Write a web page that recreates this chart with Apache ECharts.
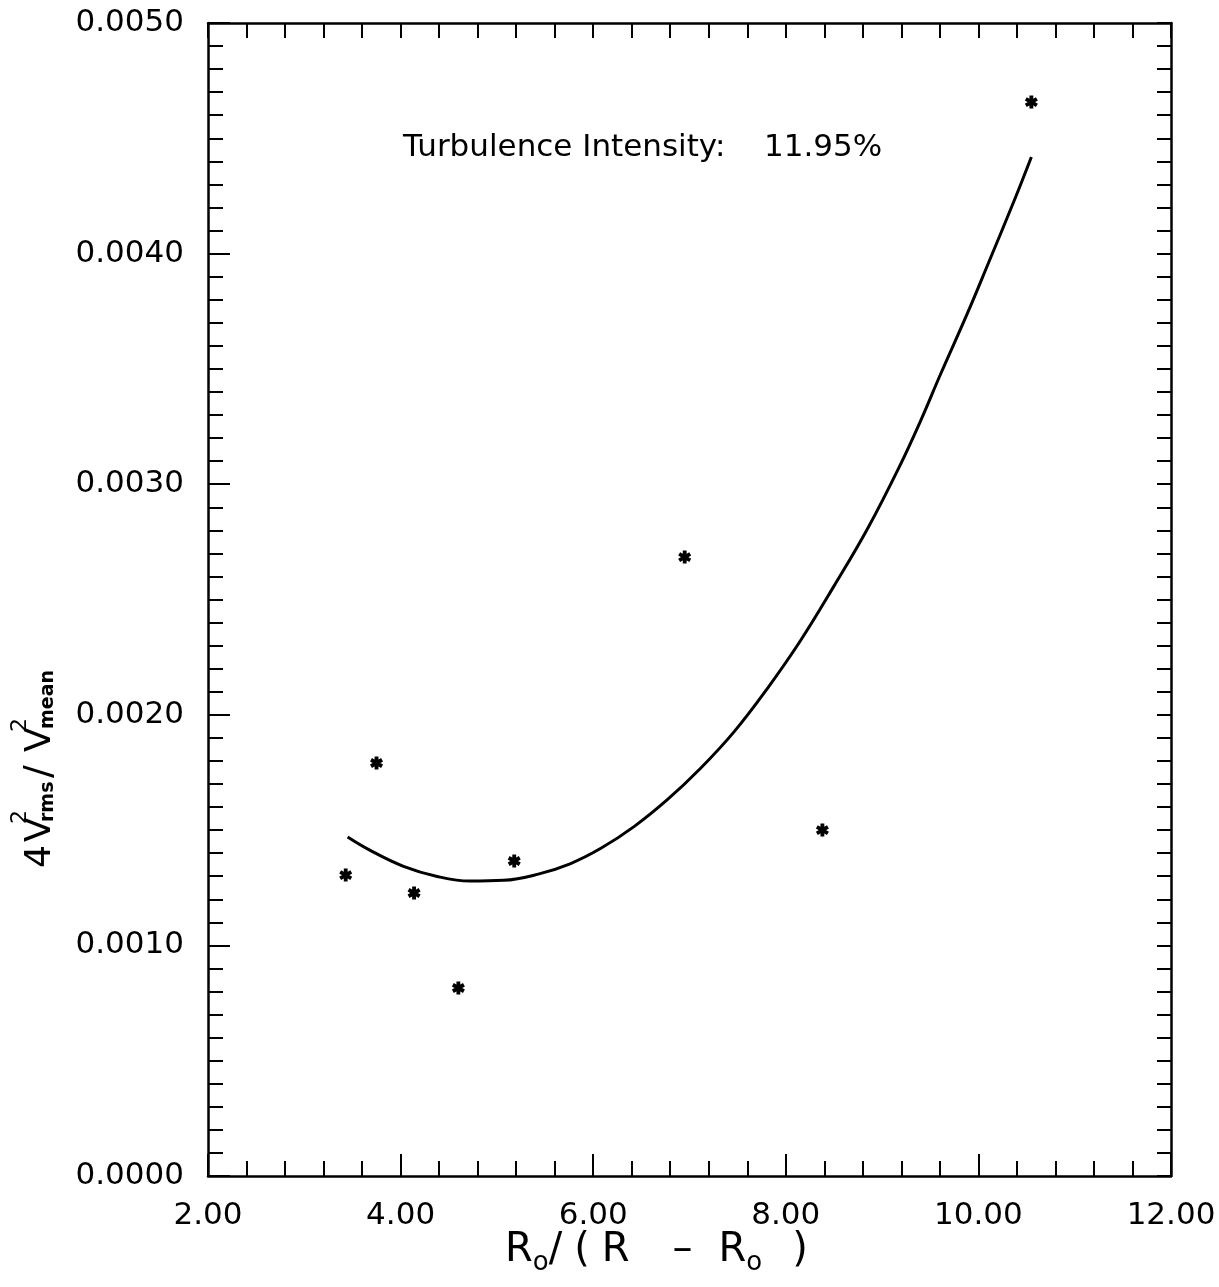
<!DOCTYPE html>
<html>
<head>
<meta charset="utf-8">
<script src="https://cdn.jsdelivr.net/npm/echarts@6/dist/echarts.min.js"></script>
<style>
html,body{margin:0;padding:0;background:#fff;}
#c{width:1219px;height:1287px;}
</style>
</head>
<body>
<div id="c"></div>
<script>
// Measured data points (asterisks)
const pointX = [3.43, 3.75, 4.14, 4.60, 5.18, 6.95, 8.38, 10.55];
const pointY = [0.001305, 0.001791, 0.001227, 0.000815, 0.001366, 0.002684, 0.001500, 0.004657];
// Fitted curve
const fitX = [3.45, 3.68, 4.03, 4.38, 4.72, 5.07, 5.42, 5.76, 6.08, 6.42, 6.77, 7.11, 7.46, 7.81, 8.15, 8.50, 8.85, 9.19, 9.40, 9.61, 9.89, 10.10, 10.37, 10.55];
const fitY = [0.001470, 0.001413, 0.001343, 0.001299, 0.001279, 0.001282, 0.001308, 0.001354, 0.001421, 0.001514, 0.001632, 0.001766, 0.001925, 0.002115, 0.002320, 0.002558, 0.002808, 0.003085, 0.003275, 0.003480, 0.003745, 0.003955, 0.004228, 0.004419];
// Axis settings
const xMin = 2, xMax = 12, xStep = 2;
const yMin = 0, yMax = 0.005, yStep = 0.001;
const annotationLabel = 'Turbulence Intensity:';
const annotationValue = '11.95%';

const FONT = '"DejaVu Sans", "Liberation Sans", sans-serif';
const black = '#000';

const scatterData = pointX.map((x, i) => [x, pointY[i]]);
const fitData = fitX.map((x, i) => [x, fitY[i]]);

const asterisk = 'path://M8 1 L14 1 L14 21 L8 21 Z M18.16 3.4 L21.16 8.6 L3.84 18.6 L0.84 13.4 Z M21.16 13.4 L18.16 18.6 L0.84 8.6 L3.84 3.4 Z';

const chart = echarts.init(document.getElementById('c'), null, {renderer: 'canvas'});

function frameAxis(extra) {
  return Object.assign({
    axisLine: {show: true, onZero: false, lineStyle: {color: black, width: 2.5}},
    splitLine: {show: false}
  }, extra);
}

function t(text, x, y, font) {
  return {type: 'text', x: x, y: y,
    style: {text: text, font: font, fill: black, align: 'left', textAlign: 'left',
      verticalAlign: 'middle', textVerticalAlign: 'middle'}};
}

const option = {
  backgroundColor: '#fff',
  animation: false,
  grid: {left: 208, top: 23, width: 963, height: 1153, containLabel: false},
  xAxis: [
    frameAxis({
      type: 'value', position: 'bottom', min: xMin, max: xMax, interval: xStep,
      axisTick: {show: true, inside: true, length: 22, lineStyle: {color: black, width: 2}},
      minorTick: {show: true, splitNumber: 5, length: 15, lineStyle: {color: black, width: 2}},
      minorSplitLine: {show: false},
      axisLabel: {show: true, margin: 24, color: black, fontSize: 31, fontFamily: FONT,
        formatter: v => v.toFixed(2)}
    }),
    frameAxis({
      type: 'value', position: 'top', min: xMin, max: xMax, interval: xStep,
      axisTick: {show: true, inside: true, length: 15, lineStyle: {color: black, width: 2}},
      minorTick: {show: true, splitNumber: 5, length: 15, lineStyle: {color: black, width: 2}},
      axisLabel: {show: false}
    })
  ],
  yAxis: [
    frameAxis({
      type: 'value', position: 'left', min: yMin, max: yMax, interval: yStep,
      axisTick: {show: true, inside: true, length: 22, lineStyle: {color: black, width: 2}},
      minorTick: {show: true, splitNumber: 10, length: 15, lineStyle: {color: black, width: 2}},
      axisLabel: {show: true, margin: 24, color: black, fontSize: 31, fontFamily: FONT,
        formatter: v => v.toFixed(4)}
    }),
    frameAxis({
      type: 'value', position: 'right', min: yMin, max: yMax, interval: yStep,
      axisTick: {show: true, inside: true, length: 14, lineStyle: {color: black, width: 2}},
      minorTick: {show: true, splitNumber: 10, length: 14, lineStyle: {color: black, width: 2}},
      axisLabel: {show: false}
    })
  ],
  series: [
    {
      type: 'line', xAxisIndex: 0, yAxisIndex: 0, data: fitData,
      smooth: 0.4, showSymbol: false, symbol: 'none',
      lineStyle: {color: black, width: 3}
    },
    {
      type: 'scatter', xAxisIndex: 0, yAxisIndex: 0, data: scatterData,
      symbol: asterisk, symbolSize: 13,
      itemStyle: {color: black, opacity: 1}
    }
  ],
  graphic: [
    t(annotationLabel, 403, 148, '31px ' + FONT),
    t(annotationValue, 764, 148, '31px ' + FONT),
    // x-axis title
    {
      type: 'text', x: 505, y: 1256,
      style: {
        text: '{a|R}{s|o}{b|/}{c|(}{a|R}{d|–}{a|R}{s|o}{e|)}',
        align: 'left', textAlign: 'left', verticalAlign: 'middle', textVerticalAlign: 'middle',
        fill: black,
        rich: {
          a: {fontSize: 40, fontFamily: FONT, lineHeight: 40, padding: [0, 0, 5, 0], verticalAlign: 'bottom', color: black},
          b: {fontSize: 40, fontFamily: FONT, lineHeight: 40, padding: [0, 12, 5, 0], verticalAlign: 'bottom', color: black},
          c: {fontSize: 40, fontFamily: FONT, lineHeight: 40, padding: [0, 12, 5, 0], verticalAlign: 'bottom', color: black},
          d: {fontSize: 40, fontFamily: FONT, lineHeight: 40, padding: [0, 26, 5, 43], verticalAlign: 'bottom', color: black},
          e: {fontSize: 40, fontFamily: FONT, lineHeight: 40, padding: [0, 0, 5, 30], verticalAlign: 'bottom', color: black},
          s: {fontSize: 26, fontFamily: FONT, lineHeight: 26, verticalAlign: 'bottom', color: black}
        }
      }
    },
    // y-axis title (rotated group: local x runs upward, local y runs rightward)
    {
      type: 'group', x: 0, y: 870, rotation: Math.PI / 2,
      children: [
        t('4', 2, 40.5, '36px ' + FONT),
        t('V', 28, 40.5, '36px ' + FONT),
        t('2', 46, 20, '22px ' + FONT),
        t('rms', 48, 48, 'bold 19px ' + FONT),
        t('/', 92, 40.5, '38px ' + FONT),
        t('V', 118, 40.5, '36px ' + FONT),
        t('2', 138, 20, '22px ' + FONT),
        t('mean', 141, 48, 'bold 19px ' + FONT)
      ]
    }
  ]
};
chart.setOption(option);
</script>
</body>
</html>
